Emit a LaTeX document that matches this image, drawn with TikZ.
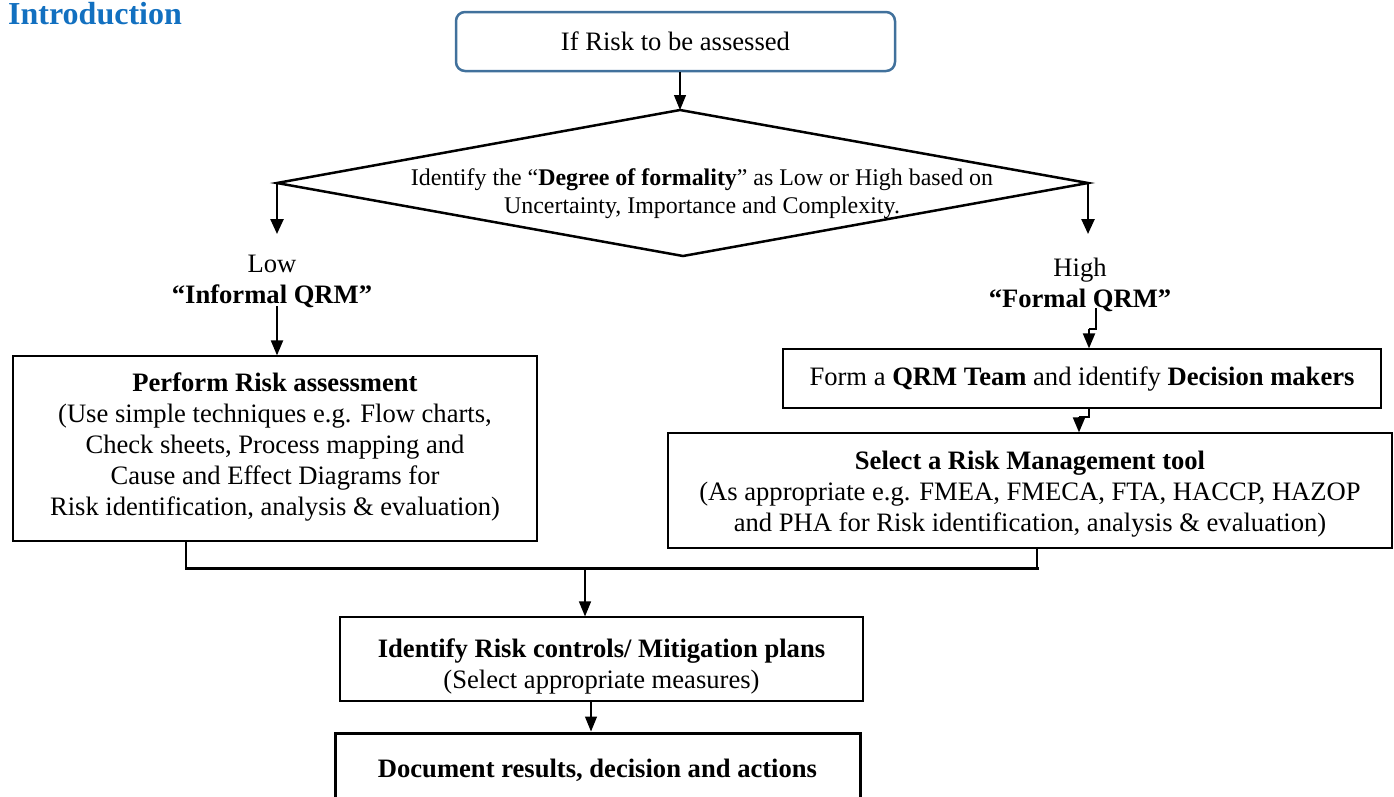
\documentclass[tikz,border=0pt]{standalone}
\usepackage{fontspec}
\setmainfont{Liberation Serif}
\usetikzlibrary{arrows.meta}
\definecolor{introblue}{RGB}{18,112,192}
\definecolor{boxblue}{RGB}{65,113,156}
\tikzset{
  txt/.style={font=\fontsize{26.6}{31}\selectfont, align=center, inner sep=0pt},
  box/.style={draw=black, line width=1.2pt, inner sep=0pt, align=center, font=\fontsize{26.6}{31}\selectfont},
  arr/.style={-{Triangle[length=15pt,width=12pt]}, line width=1.2pt},
  thickarr/.style={-{Triangle[length=15pt,width=13pt]}, line width=2.5pt},
  midarr/.style={-{Triangle[length=15pt,width=12pt]}, line width=2pt},
}
\begin{document}
\begin{tikzpicture}[x=1pt,y=-1pt]
\useasboundingbox (0,0) rectangle (1394,796);
% title
\node[anchor=west, inner sep=0pt, text=introblue, font=\fontsize{32}{34}\selectfont\bfseries] (intro) at (8,14) {Introduction};
% top box
\node[draw=boxblue, line width=2.5pt, rounded corners=9pt, minimum width=439pt, minimum height=59pt, inner sep=0pt, font=\fontsize{26.6}{31}\selectfont] (start) at (675.5,41.5) {If Risk to be assessed};
% diamond
\coordinate (dt) at (680,110);
\coordinate (dl) at (277,183);
\coordinate (dr) at (1088,183);
\coordinate (db) at (683,256);
\draw[line width=2.5pt, line join=miter] (dt) -- (dr) -- (db) -- (dl) -- cycle;
\node[txt, font=\fontsize{23.9}{28}\selectfont] (dtext) at (702,194) {Identify the \textquotedblleft\textbf{Degree of formality}\textquotedblright\ as Low or High based on\\Uncertainty, Importance and Complexity.};
\draw[arr] (start.south -| dt) -- (dt);
% labels
\node[txt] (low) at (272,281) {Low\\\textbf{\textquotedblleft Informal QRM\textquotedblright}};
\node[txt] (high) at (1080,285) {High\\\textbf{\textquotedblleft Formal QRM\textquotedblright}};
\coordinate (lowtop) at (277,234);
\coordinate (hightop) at (1088,234);
\draw[thickarr] (dl) -- (lowtop);
\draw[thickarr] (dr) -- (hightop);
% left box
\node[box, minimum width=524pt, minimum height=185pt] (perform) at (275,448.5) {\textbf{Perform Risk assessment}\\(Use simple techniques e.g. Flow charts,\\Check sheets, Process mapping and\\Cause and Effect Diagrams for\\\raisebox{0pt}[\height][\dimexpr\depth+4pt]{Risk identification, analysis \& evaluation)}};
\draw[midarr] (277,306) -- (perform.north -| 277,0);
% form box
\node[box, minimum width=598pt, minimum height=59pt] (form) at (1082,378.5) {Form a \textbf{QRM Team} and identify \textbf{Decision makers}};
\coordinate (h1) at (1096,308);
\coordinate (h2) at (1096,329);
\coordinate (h3) at (1089,329);
\draw[line width=2pt] (h1) -- (h2) -- (h3);
\draw[midarr] (h3) -- (form.north -| h3);
% select box
\node[box, minimum width=724pt, minimum height=115pt] (select) at (1030,490.5) {\rule{0pt}{26pt}\textbf{Select a Risk Management tool}\\(As appropriate e.g. FMEA, FMECA, FTA, HACCP, HAZOP\\and PHA for Risk identification, analysis \& evaluation)};
\coordinate (f1) at (1089,417);
\coordinate (f2) at (1079,417);
\draw[line width=2pt] (form.south -| f1) -- (f1) -- (f2);
\draw[midarr] (f2) -- (select.north -| f2);
% join
\coordinate (jl) at (186,568);
\coordinate (jr) at (1037,568);
\coordinate (jm) at (585,568);
\draw[line width=1.5pt] (perform.south -| jl) -- (jl);
\draw[line width=1.5pt] (select.south -| jr) -- (jr);
\draw[line width=3pt, line cap=rect] (jl) -- (jr);
% identify box
\node[box, minimum width=523pt, minimum height=84pt] (identify) at (601.5,659) {\rule{0pt}{28pt}\textbf{Identify Risk controls/ Mitigation plans}\\\raisebox{0pt}[\height][0pt]{(Select appropriate measures)}};
\draw[arr, line width=1.5pt] (jm) -- (identify.north -| jm);
% document box
\node[box, line width=3pt, minimum width=525pt, minimum height=74pt] (doc) at (597.5,770) {\textbf{Document results, decision and actions}};
\draw[arr] (identify.south -| 591,0) -- (doc.north -| 591,0);
\end{tikzpicture}
\end{document}
